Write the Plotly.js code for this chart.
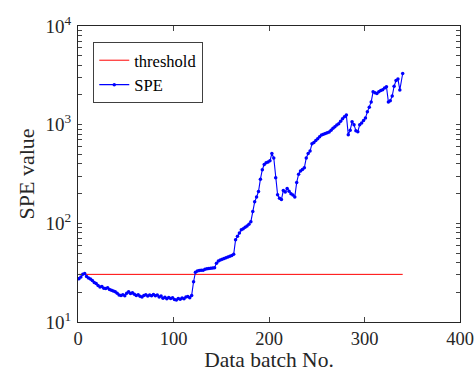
<!DOCTYPE html>
<html>
<head>
<meta charset="utf-8">
<script src="https://cdn.plot.ly/plotly-3.0.1.min.js"></script>
<style>
html,body{margin:0;padding:0;background:#fff;}
#chart{width:475px;height:372px;}
</style>
</head>
<body>
<div id="chart"></div>
<script>
// Threshold (control limit)
const thresholdBatches = [1, 340];
const thresholdValues = [30.4, 30.4];

// SPE statistic per data batch
const speBatches = [
  1,3,5,7,9,11,13,15,17,19,21,23,25,27,29,31,33,35,37,39,
  41,43,45,47,49,51,53,55,57,59,61,63,65,67,69,71,73,75,77,79,
  81,83,85,87,89,91,93,95,97,99,101,103,105,107,109,111,113,115,117,119,
  121,123,125,127,129,131,133,135,137,139,141,143,145,147,149,151,153,155,157,159,
  161,163,165,167,169,171,173,175,177,179,181,183,185,187,189,191,193,195,197,199,
  201,203,205,207,209,211,213,215,217,219,221,223,225,227,229,231,233,235,237,239,
  241,243,245,247,249,251,253,255,257,259,261,263,265,267,269,271,273,275,277,279,
  281,283,285,287,289,291,293,295,297,299,301,303,305,307,309,311,313,315,317,319,
  321,323,325,327,329,331,333,335,337,340
];
const speValues = [
  27.5,28.5,30.5,31.0,29.0,28.0,27.2,26.4,25.2,24.5,23.4,22.6,22.9,22.0,21.8,22.3,21.3,21.0,20.6,20.2,
  19.6,18.8,18.6,18.9,18.5,19.6,20.3,19.4,19.8,19.1,18.6,18.9,18.2,17.9,18.6,18.9,18.3,18.8,18.4,19.0,
  18.5,18.8,17.9,18.3,17.4,17.8,17.2,17.7,17.3,17.6,16.9,16.7,17.3,17.0,17.5,17.2,17.9,18.1,17.6,18.6,
  25.6,32.0,32.8,33.2,33.5,33.4,34.2,34.6,34.9,35.1,35.3,35.4,39.5,41.5,42.5,43.2,44.0,44.8,45.6,46.5,
  47.2,48.5,68,74,80,86,88,91,94,98,104,132,165,185,210,280,350,395,410,418,
  430,510,460,290,195,180,174,215,208,226,212,200,194,185,260,315,340,352,365,460,
  510,540,640,660,690,720,755,785,800,815,830,845,880,920,950,990,1020,1080,1150,1200,
  1250,790,880,1070,1000,870,850,1000,1040,1100,1170,1350,1500,1700,2150,2100,2070,2150,2220,2260,
  2350,2420,1700,1750,1950,2450,2800,2900,2250,3300
];

// y-axis ticks: decades labelled, intermediate values as unlabelled minor ticks
const yTickVals = [10,20,30,40,50,60,70,80,90,100,200,300,400,500,600,700,800,900,1000,2000,3000,4000,5000,6000,7000,8000,9000,10000];
const yDecadeLabels = {10: '10<sup>1</sup>', 100: '10<sup>2</sup>', 1000: '10<sup>3</sup>', 10000: '10<sup>4</sup>'};
const yTickText = yTickVals.map(v => yDecadeLabels[v] || ' ');

const font = 'Liberation Serif, Times New Roman, serif';

const traces = [
  {x: thresholdBatches, y: thresholdValues, name: 'threshold', mode: 'lines',
   line: {color: '#ff0000', width: 1}},
  {x: speBatches, y: speValues, name: 'SPE', mode: 'lines+markers',
   line: {color: '#0000ff', width: 1.1}, marker: {color: '#0000ff', size: 3.5}}
];

const layout = {
  width: 475, height: 372,
  margin: {l: 77.5, r: 15, t: 26, b: 50},
  paper_bgcolor: '#fff', plot_bgcolor: '#fff',
  font: {family: font, color: '#262626', size: 19},
  showlegend: true,
  legend: {x: 0.04, y: 0.946, xanchor: 'left', yanchor: 'top',
    bgcolor: '#fff', bordercolor: '#404040', borderwidth: 1,
    font: {family: font, size: 16.5, color: '#000'}, tracegroupgap: 0},
  xaxis: {range: [0, 400], dtick: 100, tick0: 0, ticks: 'inside', ticklen: 5,
    showline: true, linecolor: '#262626', linewidth: 1, mirror: 'ticks',
    showgrid: false, zeroline: false, tickfont: {size: 18.5}, ticklabelstandoff: 0,
    title: {text: 'Data batch No.', font: {size: 21.5}, standoff: 2}},
  yaxis: {type: 'log', range: [1, 4], tickmode: 'array', tickvals: yTickVals, ticktext: yTickText,
    ticks: 'inside', ticklen: 4, showline: true, linecolor: '#262626', linewidth: 1, mirror: 'ticks',
    showgrid: false, zeroline: false, tickfont: {size: 19}, ticklabelstandoff: 2,
    title: {text: 'SPE value', font: {size: 22}, standoff: 4}}
};

Plotly.newPlot('chart', traces, layout, {displayModeBar: false, staticPlot: true});
</script>
</body>
</html>
